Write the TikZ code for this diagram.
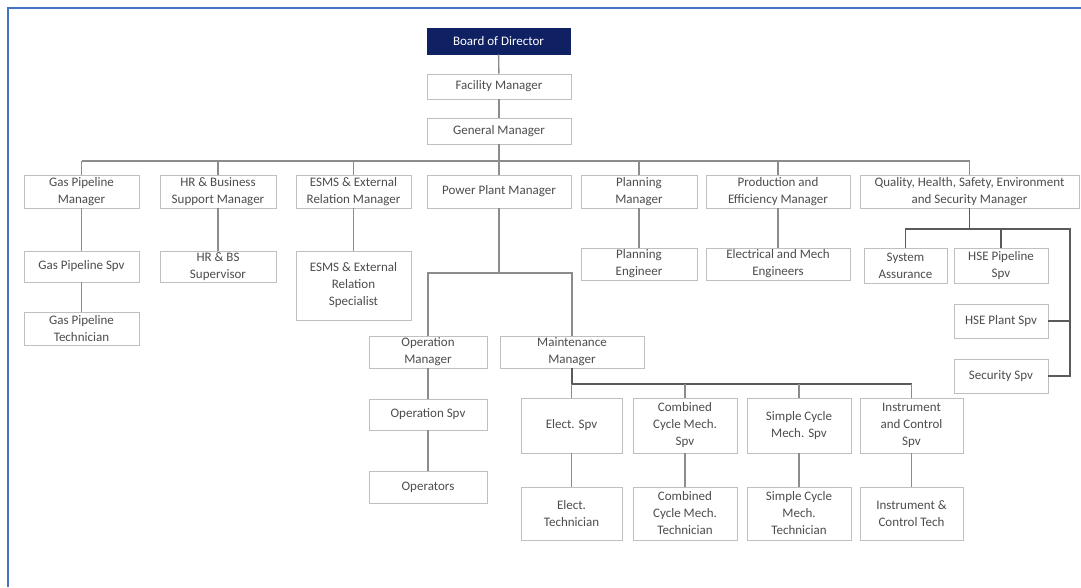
\documentclass[tikz,border=0pt]{standalone}
\usepackage{fontspec}
\setmainfont{Carlito}
\usepackage{xcolor}
\usepackage{tikz}
\usetikzlibrary{positioning}
\definecolor{navy}{HTML}{0F2163}
\definecolor{boxgray}{HTML}{BFBFBF}
\definecolor{linegray}{HTML}{8C8C8C}
\definecolor{darkline}{HTML}{5A5A5A}
\definecolor{txtgray}{HTML}{4D4D4D}
\definecolor{frameblue}{HTML}{4472C4}
\newcommand{\orgfont}{\fontsize{13}{17}\selectfont}
\tikzstyle{post} = [rectangle, draw=boxgray, line width=0.9pt, fill=white, align=center, inner sep=0pt, font=\orgfont, text=txtgray]
\tikzstyle{boss} = [post, draw=navy, fill=navy, text=white]
\tikzstyle{link} = [draw=linegray, line width=1.4pt]
\tikzstyle{boldlink} = [draw=darkline, line width=1.8pt]
\tikzstyle{frame} = [draw=frameblue, line width=2pt]

\begin{document}
\begin{tikzpicture}[x=1pt, y=-1pt]
				\useasboundingbox (0,0) rectangle (1081,587);
				\fill [white] (0,0) rectangle (1081,587);
				\draw [frame] (1081,8) -- (8,8) -- (8,587);
				
				% top of the chart
				\node (bod) [boss, minimum width=143pt, minimum height=26pt] at (498.5,41) {Board of Director};
				\node (fm) [post, minimum width=144pt, minimum height=25pt] at (499,86.5) {Facility Manager};
				\node (gm) [post, minimum width=144pt, minimum height=26pt] at (499,131) {General Manager};
				
				% managers
				\begin{scope}[every node/.append style={minimum height=33pt}]
				\node (gpm) [post, minimum width=115pt] at (81.5,191.5) {Gas Pipeline\\Manager};
				\node (hrm) [post, minimum width=116pt] at (218,191.5) {HR \& Business\\Support Manager};
				\node (esm) [post, minimum width=115pt] at (353.5,191.5) {ESMS \& External\\Relation Manager};
				\node (ppm) [post, minimum width=144pt] at (499,191.5) {Power Plant Manager};
				\node (plm) [post, minimum width=116pt] at (639,191.5) {Planning\\Manager};
				\node (pem) [post, minimum width=144pt] at (778,191.5) {Production and\\Efficiency Manager};
				\node (qhse) [post, minimum width=219pt] at (969.5,191.5) {Quality, Health, Safety, Environment\\and Security Manager};
				\end{scope}
				
				% second level
				\node (gps) [post, minimum width=115pt, minimum height=31pt] at (81.5,266.5) {Gas Pipeline Spv};
				\node (gpt) [post, minimum width=115pt, minimum height=33pt] at (81.5,328.5) {Gas Pipeline\\Technician};
				\node (hrs) [post, minimum width=116pt, minimum height=31pt] at (218,266.5) {HR \& BS\\Supervisor};
				\node (ess) [post, minimum width=115pt, minimum height=69pt] at (353.5,285.5) {ESMS \& External\\Relation\\Specialist};
				\node (ple) [post, minimum width=116pt, minimum height=32pt] at (639,264) {Planning\\Engineer};
				\node (eme) [post, minimum width=144pt, minimum height=32pt] at (778,264) {Electrical and Mech\\Engineers};
				\node (sa) [post, minimum width=83pt, minimum height=35pt] at (905.5,265.5) {System\\Assurance};
				\node (hsep) [post, minimum width=94pt, minimum height=35pt] at (1001,265.5) {HSE Pipeline\\Spv};
				\node (hsepl) [post, minimum width=94pt, minimum height=34pt] at (1001,321) {HSE Plant Spv};
				\node (sec) [post, minimum width=94pt, minimum height=34pt] at (1001,376) {Security Spv};
				
				% power plant
				\node (opm) [post, minimum width=118pt, minimum height=32pt] at (428,352) {Operation\\Manager};
				\node (mm) [post, minimum width=144pt, minimum height=32pt] at (572,352) {Maintenance\\Manager};
				\node (ops) [post, minimum width=118pt, minimum height=31pt] at (428,414.5) {Operation Spv};
				\node (opr) [post, minimum width=118pt, minimum height=32pt] at (428,487) {Operators};
				
				\node (es) [post, minimum width=101pt, minimum height=55pt] at (571.5,425.5) {Elect. Spv};
				\node (ccs) [post, minimum width=104pt, minimum height=55pt] at (685,425.5) {Combined\\Cycle Mech.\\Spv};
				\node (scs) [post, minimum width=104pt, minimum height=55pt] at (799,425.5) {Simple Cycle\\Mech. Spv};
				\node (ics) [post, minimum width=103pt, minimum height=55pt] at (911.5,425.5) {Instrument\\and Control\\Spv};
				
				\node (et) [post, minimum width=101pt, minimum height=53pt] at (571.5,513.5) {Elect.\\Technician};
				\node (cct) [post, minimum width=104pt, minimum height=53pt] at (685,513.5) {Combined\\Cycle Mech.\\Technician};
				\node (sct) [post, minimum width=104pt, minimum height=53pt] at (799,513.5) {Simple Cycle\\Mech.\\Technician};
				\node (ict) [post, minimum width=103pt, minimum height=53pt] at (911.5,513.5) {Instrument \&\\Control Tech};
				
				% connectors
				\coordinate (bus) at (0,161);
				\coordinate (qbus) at (0,229);
				\coordinate (qright) at (1070,229);
				\coordinate (pbus) at (0,273);
				\coordinate (mbus) at (0,384);
				
				\draw [link] (bod) -- (fm);
				\draw [link] (fm) -- (gm);
				\draw [link] (gm.south) -- (gm.south |- bus);
				\draw [link] (gpm.north |- bus) -- (qhse.north |- bus);
				\foreach \n in {gpm,hrm,esm,ppm,plm,pem,qhse}
					\draw [link] (\n.north |- bus) -- (\n.north);
				
				\draw [link] (gpm) -- (gps);
				\draw [link] (gps) -- (gpt);
				\draw [link] (hrm) -- (hrs);
				\draw [link] (esm) -- (ess);
				\draw [link] (plm) -- (ple);
				\draw [link] (pem) -- (eme);
				
				\draw [boldlink] (qhse.south) -- (qhse.south |- qbus);
				\draw [boldlink] (sa.north) |- (qright) -- (qright |- sec) -- (sec.east);
				\draw [boldlink] (hsep.north) -- (hsep.north |- qbus);
				\draw [boldlink] (hsepl.east) -- (hsepl.east -| qright);
				
				\draw [link] (ppm.south) -- (ppm.south |- pbus);
				\draw [link] (opm.north) |- (ppm.south |- pbus) -| (mm.north);
				\draw [link] (opm) -- (ops);
				\draw [link] (ops) -- (opr);
				
				\draw [boldlink] (mm.south) -- (mm.south |- mbus) -- (ics.north |- mbus);
				\foreach \n in {es,ccs,scs,ics}
					\draw [link] (\n.north |- mbus) -- (\n.north);
				\draw [link] (es) -- (et);
				\draw [link] (ccs) -- (cct);
				\draw [link] (scs) -- (sct);
				\draw [link] (ics) -- (ict);
				
				\end{tikzpicture}
\end{document}
